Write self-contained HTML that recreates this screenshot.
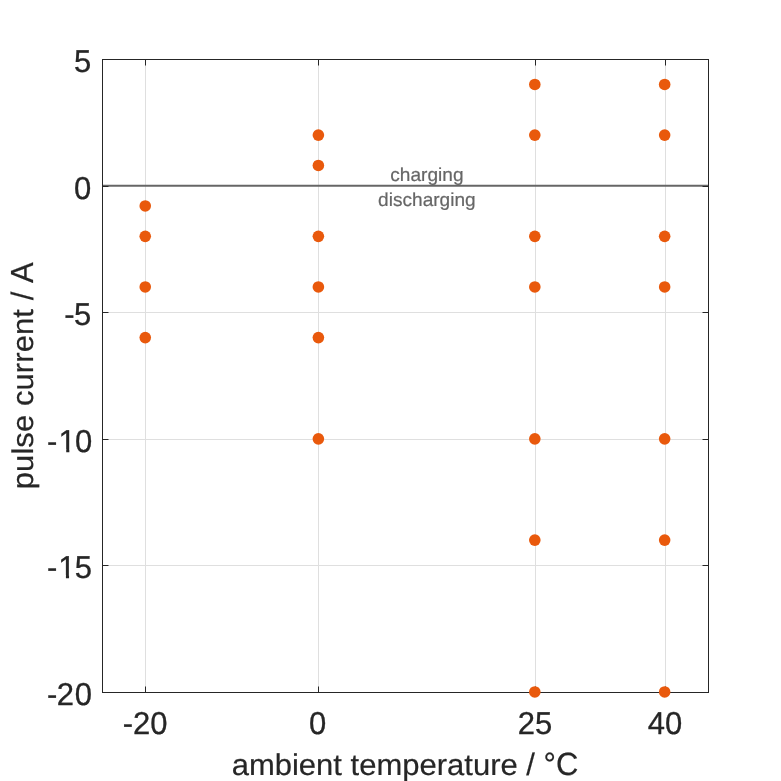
<!DOCTYPE html>
<html lang="en">
<head>
<meta charset="utf-8">
<title>pulse current vs ambient temperature</title>
<style>
html,body{margin:0;padding:0;background:#fff;}
body{width:781px;height:781px;overflow:hidden;}
svg{display:block;}
text{font-family:"Liberation Sans",sans-serif;text-rendering:geometricPrecision;}
</style>
</head>
<body>
<svg width="781" height="781" viewBox="0 0 781 781" role="img" aria-label="Pulse current versus ambient temperature">
<rect x="0" y="0" width="781" height="781" fill="#ffffff"/>
<g stroke="#dfdfdf" stroke-width="1" fill="none">
<line x1="145.5" y1="59.5" x2="145.5" y2="692.5"/>
<line x1="318.5" y1="59.5" x2="318.5" y2="692.5"/>
<line x1="535.5" y1="59.5" x2="535.5" y2="692.5"/>
<line x1="665.5" y1="59.5" x2="665.5" y2="692.5"/>
<line x1="102.5" y1="312.5" x2="708.5" y2="312.5"/>
<line x1="102.5" y1="439.5" x2="708.5" y2="439.5"/>
<line x1="102.5" y1="565.5" x2="708.5" y2="565.5"/>
</g>
<line x1="102.5" y1="185.75" x2="708.5" y2="185.75" stroke="#666666" stroke-width="2"/>
<g stroke="#262626" stroke-width="1" fill="none">
<rect x="102.5" y="59.5" width="606.0" height="633.0"/>
<line x1="145.5" y1="692.5" x2="145.5" y2="686.5"/>
<line x1="145.5" y1="59.5" x2="145.5" y2="65.5"/>
<line x1="318.5" y1="692.5" x2="318.5" y2="686.5"/>
<line x1="318.5" y1="59.5" x2="318.5" y2="65.5"/>
<line x1="535.5" y1="692.5" x2="535.5" y2="686.5"/>
<line x1="535.5" y1="59.5" x2="535.5" y2="65.5"/>
<line x1="665.5" y1="692.5" x2="665.5" y2="686.5"/>
<line x1="665.5" y1="59.5" x2="665.5" y2="65.5"/>
<line x1="102.5" y1="186.5" x2="108.5" y2="186.5"/>
<line x1="708.5" y1="186.5" x2="702.5" y2="186.5"/>
<line x1="102.5" y1="312.5" x2="108.5" y2="312.5"/>
<line x1="708.5" y1="312.5" x2="702.5" y2="312.5"/>
<line x1="102.5" y1="439.5" x2="108.5" y2="439.5"/>
<line x1="708.5" y1="439.5" x2="702.5" y2="439.5"/>
<line x1="102.5" y1="565.5" x2="108.5" y2="565.5"/>
<line x1="708.5" y1="565.5" x2="702.5" y2="565.5"/>
</g>
<g fill="#666666" stroke="#666666" stroke-width="0.2" font-size="19.1" text-anchor="middle">
<text transform="translate(426.9,181) scale(1,0.985)">charging</text>
<text transform="translate(426.9,206) scale(1,0.985)">discharging</text>
</g>
<g fill="#e9590c">
<circle cx="145.24" cy="205.96" r="5.8"/>
<circle cx="145.24" cy="236.33" r="5.8"/>
<circle cx="145.24" cy="286.96" r="5.8"/>
<circle cx="145.24" cy="337.58" r="5.8"/>
<circle cx="318.38" cy="135.09" r="5.8"/>
<circle cx="318.38" cy="165.46" r="5.8"/>
<circle cx="318.38" cy="236.33" r="5.8"/>
<circle cx="318.38" cy="286.96" r="5.8"/>
<circle cx="318.38" cy="337.58" r="5.8"/>
<circle cx="318.38" cy="438.83" r="5.8"/>
<circle cx="534.81" cy="84.46" r="5.8"/>
<circle cx="534.81" cy="135.09" r="5.8"/>
<circle cx="534.81" cy="236.33" r="5.8"/>
<circle cx="534.81" cy="286.96" r="5.8"/>
<circle cx="534.81" cy="438.83" r="5.8"/>
<circle cx="534.81" cy="540.08" r="5.8"/>
<circle cx="534.81" cy="691.95" r="5.8"/>
<circle cx="664.66" cy="84.46" r="5.8"/>
<circle cx="664.66" cy="135.09" r="5.8"/>
<circle cx="664.66" cy="236.33" r="5.8"/>
<circle cx="664.66" cy="286.96" r="5.8"/>
<circle cx="664.66" cy="438.83" r="5.8"/>
<circle cx="664.66" cy="540.08" r="5.8"/>
<circle cx="664.66" cy="691.95" r="5.8"/>
</g>
<g fill="#262626" stroke="#262626" stroke-width="0.3" stroke-linejoin="round" font-size="31">
<text transform="translate(0,734.00) scale(1,1.02)" x="122.78 133.11 150.15" y="0">-20</text>
<text transform="translate(0,734.00) scale(1,1.02)" x="309.06" y="0">0</text>
<text transform="translate(0,734.00) scale(1,1.02)" x="517.82 535.06" y="0">25</text>
<text transform="translate(0,734.00) scale(1,1.02)" x="647.67 664.91" y="0">40</text>
<text transform="translate(0,72.00) scale(1,1.02)" x="73.96" y="0">5</text>
<text transform="translate(0,199.00) scale(1,1.02)" x="73.96" y="0">0</text>
<text transform="translate(0,325.00) scale(1,1.02)" x="64.34 73.96" y="0">-5</text>
<text transform="translate(0,452.00) scale(1,1.02)" x="47.00 58.62 75.01" y="0">-10</text><rect x="60.00" y="449.00" width="6.22" height="4.00" fill="#ffffff" stroke="none"/><rect x="69.35" y="449.00" width="5.65" height="4.00" fill="#ffffff" stroke="none"/>
<text transform="translate(0,578.00) scale(1,1.02)" x="47.10 58.32 74.76" y="0">-15</text><rect x="60.00" y="575.00" width="5.92" height="4.00" fill="#ffffff" stroke="none"/><rect x="69.05" y="575.00" width="5.95" height="4.00" fill="#ffffff" stroke="none"/>
<text transform="translate(0,705.00) scale(1,1.02)" x="47.10 56.72 74.86" y="0">-20</text>
</g>
<g fill="#262626" stroke="#262626" stroke-width="0.2" stroke-linejoin="round" font-size="31">
<g aria-label="ambient temperature / °C">
<text transform="translate(231.67,775) scale(1,0.965)">ambient</text>
<text transform="translate(350.57,775) scale(1,0.965)">temperature</text>
<text transform="translate(526.32,775) scale(1,1.0)">/</text>
<text transform="translate(543.55,775) scale(1,1.035)">°C</text>
</g>
<g transform="translate(33.3,375.7) rotate(-90)" letter-spacing="0.08" aria-label="pulse current / A">
<text transform="translate(-113.54,0) scale(1,0.965)">pulse</text>
<text transform="translate(-30.34,0) scale(1,0.965)">current</text>
<text transform="translate(75.40,0) scale(1,1.0)">/</text>
<text transform="translate(92.78,0) scale(1,1.03)">A</text>
</g>
</g>
</svg>
</body>
</html>
